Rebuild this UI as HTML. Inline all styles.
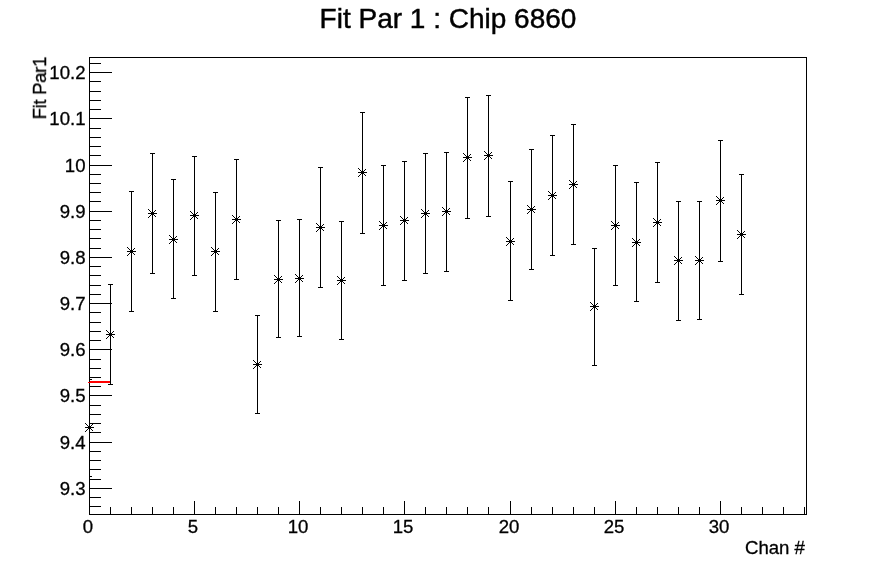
<!DOCTYPE html>
<html><head><meta charset="utf-8"><title>Fit Par 1 : Chip 6860</title>
<style>
html,body{margin:0;padding:0;background:#fff;}
.t,.xl,.yl,.xt{will-change:transform;}
.t{-webkit-text-stroke:0.45px #000;}
.xl,.yl,.xt,.yt{-webkit-text-stroke:0.3px #000;}
body{width:896px;height:572px;position:relative;overflow:hidden;font-family:"Liberation Sans",sans-serif;color:#000;}
svg{position:absolute;left:0;top:0;}
.t{position:absolute;left:0;width:896px;top:3px;text-align:center;font-size:28px;line-height:32px;white-space:nowrap;}
.xl{position:absolute;top:515px;width:60px;text-align:center;font-size:18.6px;line-height:24px;}
.yl{position:absolute;left:0;width:85.5px;text-align:right;font-size:18.6px;line-height:24px;}
.xt{position:absolute;right:91px;top:536px;font-size:18.6px;line-height:24px;white-space:nowrap;}
.yt{position:absolute;left:39.6px;top:57px;letter-spacing:-0.34px;font-size:18.6px;line-height:24px;white-space:nowrap;transform-origin:0 0;transform:translate(-12px,0) rotate(-90deg) translate(-100%,0);}
</style></head><body>
<svg width="896" height="572" viewBox="0 0 896 572" shape-rendering="crispEdges">
<defs><g id="s" fill="#000">
<rect x="-4" y="0" width="9" height="1"/>
<rect x="0" y="-4" width="1" height="9"/>
<rect x="-4" y="-4" width="1" height="1"/>
<rect x="-4" y="4" width="1" height="1"/>
<rect x="-3" y="-3" width="1" height="1"/>
<rect x="-3" y="3" width="1" height="1"/>
<rect x="-2" y="-2" width="1" height="1"/>
<rect x="-2" y="2" width="1" height="1"/>
<rect x="-1" y="-1" width="1" height="1"/>
<rect x="-1" y="1" width="1" height="1"/>
<rect x="0" y="0" width="1" height="1"/>
<rect x="0" y="0" width="1" height="1"/>
<rect x="1" y="1" width="1" height="1"/>
<rect x="1" y="-1" width="1" height="1"/>
<rect x="2" y="2" width="1" height="1"/>
<rect x="2" y="-2" width="1" height="1"/>
<rect x="3" y="3" width="1" height="1"/>
<rect x="3" y="-3" width="1" height="1"/>
</g></defs>
<rect width="896" height="572" fill="#fff"/>
<rect x="89.5" y="57.5" width="717" height="457" fill="none" stroke="#000" stroke-width="1"/>
<path d="M89.5 514.5v-14 M110.5 514.5v-8 M131.5 514.5v-8 M152.5 514.5v-8 M173.5 514.5v-8 M194.5 514.5v-14 M215.5 514.5v-8 M236.5 514.5v-8 M257.5 514.5v-8 M278.5 514.5v-8 M299.5 514.5v-14 M320.5 514.5v-8 M341.5 514.5v-8 M362.5 514.5v-8 M383.5 514.5v-8 M404.5 514.5v-14 M425.5 514.5v-8 M446.5 514.5v-8 M467.5 514.5v-8 M488.5 514.5v-8 M510.5 514.5v-14 M531.5 514.5v-8 M552.5 514.5v-8 M573.5 514.5v-8 M594.5 514.5v-8 M615.5 514.5v-14 M636.5 514.5v-8 M657.5 514.5v-8 M678.5 514.5v-8 M699.5 514.5v-8 M720.5 514.5v-14 M741.5 514.5v-8 M762.5 514.5v-8 M783.5 514.5v-8 M804.5 514.5v-8 M89.5 506.5h11 M89.5 497.5h11 M89.5 488.5h22 M89.5 479.5h11 M89.5 469.5h11 M89.5 460.5h11 M89.5 451.5h11 M89.5 442.5h22 M89.5 432.5h11 M89.5 423.5h11 M89.5 414.5h11 M89.5 405.5h11 M89.5 395.5h22 M89.5 386.5h11 M89.5 377.5h11 M89.5 368.5h11 M89.5 359.5h11 M89.5 349.5h22 M89.5 340.5h11 M89.5 331.5h11 M89.5 322.5h11 M89.5 312.5h11 M89.5 303.5h22 M89.5 294.5h11 M89.5 285.5h11 M89.5 275.5h11 M89.5 266.5h11 M89.5 257.5h22 M89.5 248.5h11 M89.5 238.5h11 M89.5 229.5h11 M89.5 220.5h11 M89.5 211.5h22 M89.5 201.5h11 M89.5 192.5h11 M89.5 183.5h11 M89.5 174.5h11 M89.5 165.5h22 M89.5 155.5h11 M89.5 146.5h11 M89.5 137.5h11 M89.5 128.5h11 M89.5 118.5h22 M89.5 109.5h11 M89.5 100.5h11 M89.5 91.5h11 M89.5 81.5h11 M89.5 72.5h22 M89.5 63.5h11" stroke="#000" stroke-width="1" fill="none"/>
<path d="M89.0 379.5h3 M89.0 476.5h3 M110.5 284.0V385.0 M108.0 284.5h5 M108.0 384.5h5 M131.5 191.0V312.0 M129.0 191.5h5 M129.0 311.5h5 M152.5 153.0V274.0 M150.0 153.5h5 M150.0 273.5h5 M173.5 179.0V299.0 M171.0 179.5h5 M171.0 298.5h5 M194.5 156.0V276.0 M192.0 156.5h5 M192.0 275.5h5 M215.5 192.0V312.0 M213.0 192.5h5 M213.0 311.5h5 M236.5 159.0V280.0 M234.0 159.5h5 M234.0 279.5h5 M257.5 315.0V414.0 M255.0 315.5h5 M255.0 413.5h5 M278.5 220.0V338.0 M276.0 220.5h5 M276.0 337.5h5 M299.5 219.0V337.0 M297.0 219.5h5 M297.0 336.5h5 M320.5 167.0V288.0 M318.0 167.5h5 M318.0 287.5h5 M341.5 221.0V340.0 M339.0 221.5h5 M339.0 339.5h5 M362.5 112.0V234.0 M360.0 112.5h5 M360.0 233.5h5 M383.5 165.0V286.0 M381.0 165.5h5 M381.0 285.5h5 M404.5 161.0V281.0 M402.0 161.5h5 M402.0 280.5h5 M425.5 153.0V274.0 M423.0 153.5h5 M423.0 273.5h5 M446.5 152.0V272.0 M444.0 152.5h5 M444.0 271.5h5 M467.5 97.0V219.0 M465.0 97.5h5 M465.0 218.5h5 M488.5 95.0V217.0 M486.0 95.5h5 M486.0 216.5h5 M510.5 181.0V301.0 M508.0 181.5h5 M508.0 300.5h5 M531.5 149.0V270.0 M529.0 149.5h5 M529.0 269.5h5 M552.5 135.0V256.0 M550.0 135.5h5 M550.0 255.5h5 M573.5 124.0V245.0 M571.0 124.5h5 M571.0 244.5h5 M594.5 248.0V366.0 M592.0 248.5h5 M592.0 365.5h5 M615.5 165.0V286.0 M613.0 165.5h5 M613.0 285.5h5 M636.5 182.0V302.0 M634.0 182.5h5 M634.0 301.5h5 M657.5 162.0V283.0 M655.0 162.5h5 M655.0 282.5h5 M678.5 201.0V321.0 M676.0 201.5h5 M676.0 320.5h5 M699.5 201.0V320.0 M697.0 201.5h5 M697.0 319.5h5 M720.5 140.0V262.0 M718.0 140.5h5 M718.0 261.5h5 M741.5 174.0V295.0 M739.0 174.5h5 M739.0 294.5h5" stroke="#000" stroke-width="1" fill="none"/>
<path d="M90 381h20v2h-22v-1h2z" fill="#f00"/>
<use href="#s" x="89.0" y="427.0"/>
<use href="#s" x="110.0" y="334.0"/>
<use href="#s" x="131.0" y="251.0"/>
<use href="#s" x="152.0" y="213.0"/>
<use href="#s" x="173.0" y="239.0"/>
<use href="#s" x="194.0" y="215.0"/>
<use href="#s" x="215.0" y="251.0"/>
<use href="#s" x="236.0" y="219.0"/>
<use href="#s" x="257.0" y="364.0"/>
<use href="#s" x="278.0" y="279.0"/>
<use href="#s" x="299.0" y="278.0"/>
<use href="#s" x="320.0" y="227.0"/>
<use href="#s" x="341.0" y="280.0"/>
<use href="#s" x="362.0" y="172.0"/>
<use href="#s" x="383.0" y="225.0"/>
<use href="#s" x="404.0" y="220.0"/>
<use href="#s" x="425.0" y="213.0"/>
<use href="#s" x="446.0" y="211.0"/>
<use href="#s" x="467.0" y="157.0"/>
<use href="#s" x="488.0" y="155.0"/>
<use href="#s" x="510.0" y="241.0"/>
<use href="#s" x="531.0" y="209.0"/>
<use href="#s" x="552.0" y="195.0"/>
<use href="#s" x="573.0" y="184.0"/>
<use href="#s" x="594.0" y="306.0"/>
<use href="#s" x="615.0" y="225.0"/>
<use href="#s" x="636.0" y="242.0"/>
<use href="#s" x="657.0" y="222.0"/>
<use href="#s" x="678.0" y="260.0"/>
<use href="#s" x="699.0" y="260.0"/>
<use href="#s" x="720.0" y="200.0"/>
<use href="#s" x="741.0" y="234.0"/>
</svg>
<div class="t">Fit Par 1 : Chip 6860</div>
<div class="xl" style="left:58.0px">0</div><div class="xl" style="left:163.0px">5</div><div class="xl" style="left:268.0px">10</div><div class="xl" style="left:373.0px">15</div><div class="xl" style="left:479.0px">20</div><div class="xl" style="left:584.0px">25</div><div class="xl" style="left:689.0px">30</div><div class="yl" style="top:476.5px">9.3</div><div class="yl" style="top:430.5px">9.4</div><div class="yl" style="top:383.5px">9.5</div><div class="yl" style="top:337.5px">9.6</div><div class="yl" style="top:291.5px">9.7</div><div class="yl" style="top:245.5px">9.8</div><div class="yl" style="top:199.5px">9.9</div><div class="yl" style="top:153.5px">10</div><div class="yl" style="top:106.5px">10.1</div><div class="yl" style="top:60.5px">10.2</div>
<div class="xt">Chan #</div>
<div class="yt">Fit Par1</div>
</body></html>
